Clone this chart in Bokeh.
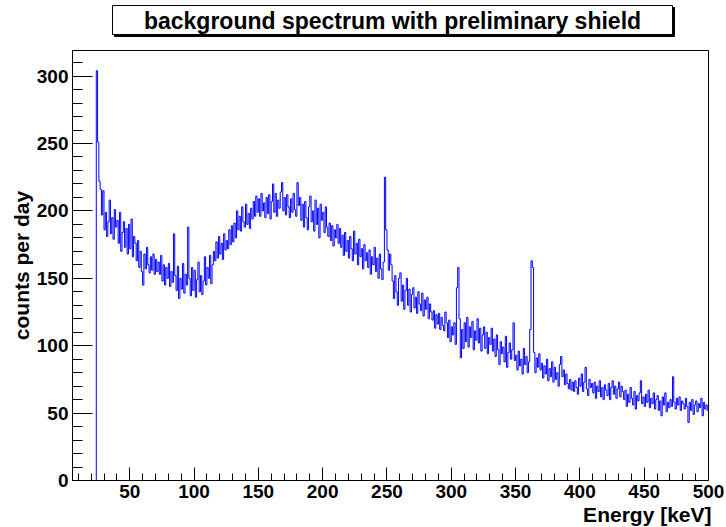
import numpy as np
from bokeh.plotting import figure
from bokeh.layouts import column
from bokeh.models import Range1d, SingleIntervalTicker, Title
from bokeh.core.properties import value
from bokeh.embed import file_html
from bokeh.resources import INLINE

# ---- data: 1 keV bins from 24 keV to 500 keV (counts per day) ----
bin_start = 24.0
bin_width = 1.0
counts = [
    304, 251, 222, 216, 197, 215,                      # 24-29
    186, 199, 181, 192, 208, 183, 195, 179, 201, 188,  # 30
    193, 176, 199, 170, 184, 192, 173, 187, 168, 190,  # 40
    172, 194, 166, 181, 176, 163, 178, 158, 170, 155,  # 50
    145, 168, 157, 173, 160, 154, 166, 156, 168, 153,  # 60
    164, 155, 162, 153, 167, 148, 160, 145, 158, 150,  # 70
    161, 144, 155, 147, 183, 152, 141, 159, 135, 150,  # 80
    142, 161, 139, 153, 145, 188, 150, 137, 158, 141,  # 90
    156, 136, 149, 162, 140, 152, 138, 148, 166, 145,  # 100
    158, 150, 167, 146, 160, 170, 163, 177, 165, 181,  # 110
    168, 176, 164, 183, 171, 178, 172, 186, 175, 189,  # 120
    177, 191, 180, 200, 186, 196, 185, 203, 192, 188,  # 130
    205, 190, 198, 187, 202, 194, 207, 196, 211, 199,  # 140
    209, 196, 213, 200, 206, 195, 210, 198, 212, 194,  # 150
    207, 220, 199, 213, 196, 208, 202, 214, 221, 200,  # 160
    210, 197, 212, 203, 195, 209, 199, 213, 201, 196,  # 170
    221, 204, 210, 193, 205, 188, 207, 195, 186, 203,  # 180
    211, 192, 200, 185, 208, 190, 202, 180, 205, 193,  # 190
    199, 184, 203, 188, 181, 191, 178, 189, 174, 186,  # 200
    180, 190, 176, 187, 173, 182, 167, 184, 170, 178,  # 210
    165, 181, 172, 163, 185, 168, 176, 160, 179, 166,  # 220
    172, 157, 175, 163, 169, 158, 171, 153, 166, 160,  # 230
    173, 155, 165, 150, 168, 157, 149, 162, 225, 186,  # 240
    171, 156, 168, 160, 148, 135, 152, 140, 130, 150,  # 250
    154, 133, 145, 127, 141, 150, 130, 142, 125, 138,  # 260
    143, 128, 136, 124, 140, 131, 126, 139, 122, 134,  # 270
    127, 136, 120, 131, 125, 119, 126, 113, 123, 116,  # 280
    124, 112, 121, 115, 111, 125, 117, 106, 119, 103,  # 290
    114, 108, 117, 101, 143, 158, 120, 91, 112, 98,    # 300
    117, 103, 121, 99, 114, 106, 118, 97, 111, 104,    # 310
    120, 102, 113, 96, 108, 114, 98, 110, 94, 106,     # 320
    101, 113, 96, 105, 92, 108, 97, 86, 103, 94,       # 330
    99, 88, 107, 84, 95, 102, 90, 97, 117, 89,         # 340
    93, 82, 96, 85, 90, 79, 98, 86, 92, 80,            # 350
    88, 112, 163, 158, 95, 80, 91, 84, 94, 82,         # 360
    87, 76, 85, 79, 90, 74, 83, 77, 88, 73,            # 370
    84, 75, 80, 70, 86, 92, 77, 82, 71, 79,            # 380
    72, 68, 75, 67, 73, 66, 74, 69, 64, 76,            # 390
    70, 79, 66, 73, 84, 68, 63, 75, 69, 72,            # 400
    65, 73, 61, 70, 66, 74, 62, 69, 60, 71,            # 410
    67, 63, 72, 60, 69, 74, 64, 70, 61, 68,            # 420
    73, 62, 70, 66, 60, 67, 55, 64, 58, 69,            # 430
    61, 56, 66, 53, 63, 59, 65, 74, 57, 62,            # 440
    55, 64, 58, 67, 54, 61, 57, 65, 53, 60,            # 450
    63, 52, 59, 48, 62, 56, 65, 51, 58, 54,            # 460
    60, 55, 77, 58, 53, 61, 56, 62, 52, 59,            # 470
    57, 53, 61, 55, 43, 58, 52, 60, 49, 56,            # 480
    59, 51, 57, 54, 61, 48, 58, 53, 56, 52,            # 490
]
title_text = "background spectrum with preliminary shield"
x_title = "Energy [keV]"
y_title = "counts per day"

x_min, x_max = 5.5, 500.0
y_min, y_max = 0.0, 319.0

edges = bin_start + bin_width * np.arange(len(counts) + 1)
step_x = np.concatenate([[edges[0]], edges])
step_y = np.concatenate([[0.0], np.array(counts, dtype=float), [counts[-1]]])

FONT = "Liberation Sans"
W = 726
LB, RB = 72, 18          # left / right borders (frame spans x = 72..708)
TOP_H = 45               # title strip height
MAIN_H = 527 - TOP_H

# ---- title strip (ROOT-like title box with shadow) ----
tp = figure(width=W, height=TOP_H, output_backend="svg", toolbar_location=None,
            x_range=Range1d(LB, W - RB), y_range=Range1d(TOP_H, 0),
            x_axis_type=None, y_axis_type=None, title=None)
tp.min_border_left = LB
tp.min_border_right = RB
tp.min_border_top = 0
tp.min_border_bottom = 0
tp.outline_line_color = None
tp.xgrid.visible = False
tp.ygrid.visible = False
tp.background_fill_color = "white"
tp.border_fill_color = "white"
tp.quad(left=[114], right=[674], top=[7], bottom=[36],
        fill_color="black", line_color="black")
tp.quad(left=[112], right=[672], top=[5], bottom=[34],
        fill_color="white", line_color="black", line_width=1)
tp.text(x=[392], y=[20], text=[title_text], text_align="center",
        text_baseline="middle", text_font=value(FONT), text_font_style="bold",
        text_font_size="23px", text_color="black")

# ---- main plot ----
p = figure(width=W, height=MAIN_H, output_backend="svg", toolbar_location=None,
           x_range=Range1d(x_min, x_max), y_range=Range1d(y_min, y_max),
           title=None)
p.min_border_left = LB
p.min_border_right = RB
p.min_border_top = 5
p.min_border_bottom = 47
p.background_fill_color = "white"
p.border_fill_color = "white"
p.outline_line_color = "black"
p.outline_line_width = 1
p.xgrid.visible = False
p.ygrid.visible = False

p.step(step_x, step_y, mode="after", line_color="#0000ff", line_width=1)

xa = p.xaxis[0]
xa.ticker = SingleIntervalTicker(interval=50, num_minor_ticks=5)
xa.major_tick_in = 13
xa.major_tick_out = 0
xa.minor_tick_in = 7
xa.minor_tick_out = 0
xa.axis_line_color = "black"
xa.major_tick_line_color = "black"
xa.minor_tick_line_color = "black"
xa.major_label_text_font = FONT
xa.major_label_text_font_style = "bold"
xa.major_label_text_font_size = "19px"
xa.major_label_text_color = "black"
xa.major_label_standoff = 4

ya = p.yaxis[0]
ya.ticker = SingleIntervalTicker(interval=50, num_minor_ticks=5)
ya.major_tick_in = 20
ya.major_tick_out = 0
ya.minor_tick_in = 10
ya.minor_tick_out = 0
ya.axis_line_color = "black"
ya.major_tick_line_color = "black"
ya.minor_tick_line_color = "black"
ya.major_label_text_font = FONT
ya.major_label_text_font_style = "bold"
ya.major_label_text_font_size = "19px"
ya.major_label_text_color = "black"
ya.major_label_standoff = 4
ya.axis_label = y_title
ya.axis_label_text_font = FONT
ya.axis_label_text_font_style = "bold"
ya.axis_label_text_font_size = "21px"
ya.axis_label_text_color = "black"
ya.axis_label_standoff = 1

# x title, right-aligned at the end of the axis as ROOT does
p.add_layout(Title(text=x_title, align="right", offset=-3, standoff=0,
                   text_font=FONT, text_font_style="bold",
                   text_font_size="21px", text_color="black"), "below")

layout = column(tp, p, spacing=0)
open("out.html", "w").write(file_html(layout, INLINE))
